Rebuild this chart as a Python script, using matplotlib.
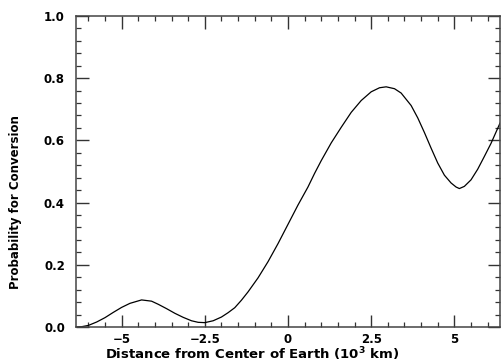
import numpy as np
import matplotlib
matplotlib.use('Agg')
import matplotlib.pyplot as plt
from matplotlib.ticker import MultipleLocator

# values
dist_km = [-6.37, -6.2, -6.0, -5.75, -5.5, -5.25, -5.0, -4.75, -4.4, -4.1, -3.9,
           -3.65, -3.4, -3.15, -2.9, -2.7, -2.5, -2.25, -2.0, -1.8, -1.6,
           -1.4, -1.2, -0.9, -0.6, -0.3, 0.0, 0.3, 0.6, 0.8, 1.0,
           1.3, 1.6, 1.9, 2.2, 2.5, 2.75, 2.95, 3.2, 3.4, 3.7,
           3.9, 4.1, 4.3, 4.5, 4.7, 4.9, 5.05, 5.15, 5.3, 5.5,
           5.7, 5.9, 6.1, 6.37]
prob = [0.0, 0.001, 0.005, 0.016, 0.03, 0.047, 0.063, 0.076, 0.087, 0.083, 0.073,
        0.059, 0.044, 0.031, 0.020, 0.015, 0.014, 0.020, 0.032, 0.046, 0.062,
        0.086, 0.113, 0.158, 0.210, 0.268, 0.330, 0.392, 0.450, 0.494, 0.535,
        0.592, 0.642, 0.690, 0.728, 0.756, 0.769, 0.772, 0.766, 0.752, 0.712,
        0.672, 0.625, 0.575, 0.527, 0.488, 0.463, 0.450, 0.445, 0.452, 0.473,
        0.507, 0.548, 0.590, 0.655]

xticks = [-5, -2.5, 0, 2.5, 5]
xticklabels = ['\u22125', '\u22122.5', '0', '2.5', '5']
yticks = [0.0, 0.2, 0.4, 0.6, 0.8, 1.0]

fig = plt.figure(figsize=(5.01, 3.63), dpi=100)
ax = fig.add_axes([0.1517, 0.0992, 0.8463, 0.857])

ax.plot(dist_km, prob, color='black', lw=0.9)

ax.set_xlim(-6.371, 6.371)
ax.set_ylim(0.0, 1.0)
ax.set_xticks(xticks)
ax.set_xticklabels(xticklabels, fontweight='bold')
ax.set_yticks(yticks)
ax.set_yticklabels(['%.1f' % v for v in yticks], fontweight='bold')
ax.xaxis.set_minor_locator(MultipleLocator(0.5))
ax.yaxis.set_minor_locator(MultipleLocator(0.04))

ax.tick_params(which='both', direction='in', top=True, right=True,
               labelsize=8.5, color='#333333')
ax.tick_params(axis='x', pad=4)
ax.tick_params(axis='y', pad=8)
ax.tick_params(which='major', length=9, width=1.0)
ax.tick_params(which='minor', length=3.5, width=0.9)
for s in ax.spines.values():
    s.set_linewidth(1.1)
    s.set_color('#444444')

ax.set_xlabel('Distance from Center of Earth (10$^\\mathbf{3}$ km)', fontsize=9.5,
              fontweight='bold', va='center')
ax.xaxis.set_label_coords(0.415, -0.088)
ax.set_ylabel('Probability for Conversion', fontsize=8.5, fontweight='bold',
              va='center')
ax.yaxis.set_label_coords(-0.143, 0.40)

fig.savefig('out.png', dpi=100)
